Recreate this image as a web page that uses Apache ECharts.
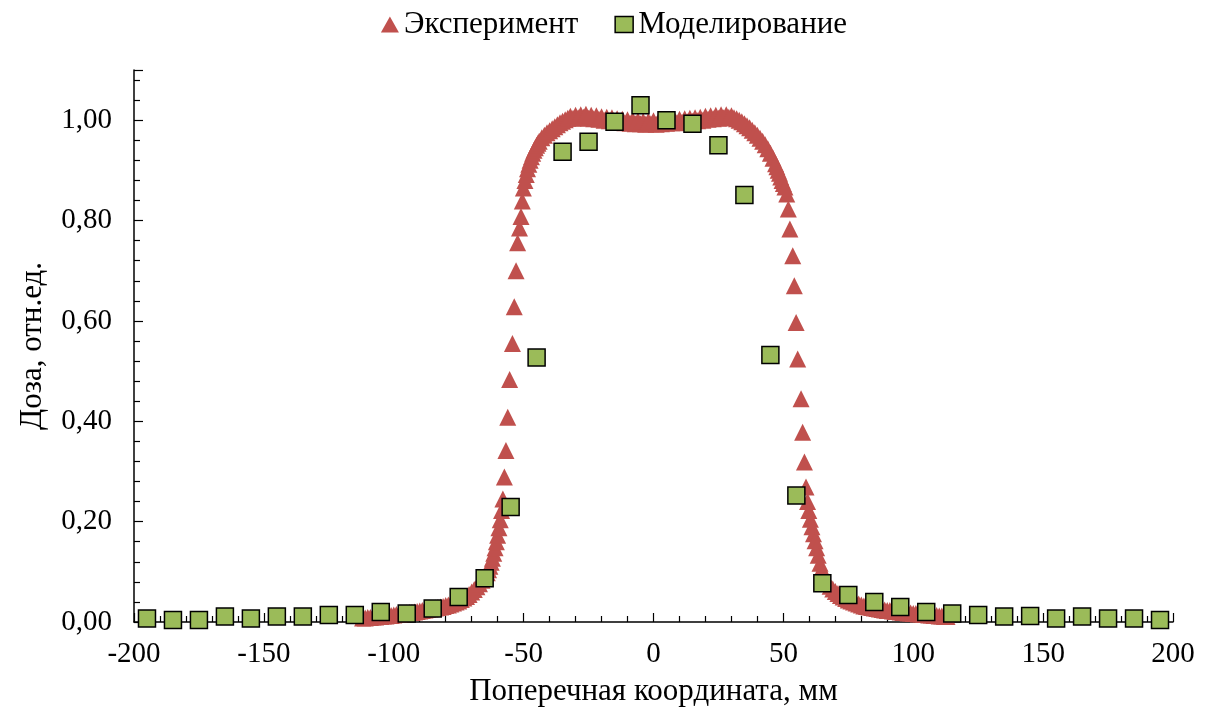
<!DOCTYPE html>
<html>
<head>
<meta charset="utf-8">
<script src="https://cdn.jsdelivr.net/npm/echarts@6/dist/echarts.min.js"></script>
<style>
html,body{margin:0;padding:0;background:#fff;}
#chart{width:1228px;height:717px;}
</style>
</head>
<body>
<div id="chart"></div>
<script>
// Series names
const seriesNames = ['Эксперимент', 'Моделирование'];

// Experiment (measured profile), [x mm, relative dose]
const experimentData = [
  [-112,0.008],[-111,0.008],[-110,0.009],[-109,0.009],[-108,0.010],[-107,0.010],[-106,0.011],[-105,0.011],
  [-104,0.012],[-103,0.012],[-102,0.013],[-101,0.013],[-100,0.014],[-99,0.015],[-98,0.015],[-97,0.016],
  [-96,0.017],[-95,0.018],[-94,0.019],[-93,0.019],[-92,0.020],[-91,0.021],[-90,0.022],[-89,0.023],
  [-88,0.024],[-87,0.025],[-86,0.026],[-85,0.027],[-84,0.028],[-83,0.029],[-82,0.030],[-81,0.031],
  [-80,0.033],[-79,0.034],[-78,0.036],[-77,0.038],[-76,0.040],[-75,0.042],[-74,0.045],[-73,0.048],
  [-72,0.051],[-71,0.055],[-70,0.060],[-69,0.065],[-68,0.070],[-67,0.076],[-66,0.083],[-65,0.090],
  [-64,0.098],[-63.5,0.104],[-63,0.111],[-62.5,0.119],[-62,0.127],[-61.5,0.137],[-61,0.148],[-60.5,0.160],
  [-60,0.173],[-59.5,0.188],[-59,0.204],[-58.5,0.222],[-58,0.245],[-57.4,0.289],[-56.8,0.342],[-56.1,0.408],
  [-55.4,0.483],[-54.3,0.555],[-53.6,0.628],[-52.9,0.700],[-52.3,0.756],[-51.6,0.785],[-51.0,0.808],[-50.5,0.839],
  [-50.1,0.865],[-49.5,0.880],[-49.0,0.892],[-48.5,0.903],[-48.0,0.912],[-47.5,0.920],[-47.0,0.927],[-46.5,0.934],
  [-46,0.940],[-45.5,0.945],[-45,0.950],[-44.5,0.954],[-44,0.958],[-43,0.965],[-42,0.970],[-41,0.975],
  [-40,0.979],[-39,0.983],[-38,0.987],[-37,0.991],[-36,0.995],[-35,0.998],[-34,1.001],[-33,1.004],
  [-32,1.008],[-31,1.004],[-30,1.010],[-29,1.005],[-28,1.011],[-27,1.006],[-26,1.012],[-25,1.004],
  [-24,1.010],[-23,1.003],[-22,1.009],[-21,1.002],[-20,1.007],[-19,1.000],[-18,1.006],[-17,0.999],
  [-16,1.005],[-15,0.997],[-14,1.003],[-13,0.996],[-12,1.002],[-11,0.995],[-10,1.001],[-9,0.994],
  [-8,1.000],[-7,0.993],[-6,0.999],[-5,0.993],[-4,0.998],[-3,0.992],[-2,0.998],[-1,0.993],
  [0,0.999],[1,0.992],[2,0.998],[3,0.993],[4,0.999],[5,0.994],[6,1.000],[7,0.995],
  [8,1.001],[9,0.995],[10,1.002],[11,0.996],[12,1.003],[13,0.997],[14,1.004],[15,0.998],
  [16,1.005],[17,0.999],[18,1.006],[19,1.000],[20,1.008],[21,1.002],[22,1.009],[23,1.003],
  [24,1.010],[25,1.004],[26,1.011],[27,1.005],[28,1.011],[29,1.006],[30,1.009],[31,1.005],
  [32,1.003],[33,1.000],[34,0.997],[35,0.993],[36,0.989],[37,0.985],[38,0.980],[39,0.975],
  [40,0.970],[41,0.964],[42,0.958],[43,0.951],[44,0.943],[45,0.934],[46,0.924],[47,0.913],
  [47.5,0.907],[48,0.900],[48.5,0.894],[49,0.887],[49.5,0.880],[50,0.874],[50.6,0.867],[51.3,0.853],
  [51.9,0.823],[52.5,0.783],[53.6,0.730],[54.2,0.670],[54.9,0.597],[55.5,0.524],[56.8,0.445],[57.4,0.378],
  [58.1,0.319],[58.7,0.269],[59.3,0.240],[59.8,0.222],[60.4,0.205],[61.0,0.190],[61.6,0.176],[62.2,0.162],
  [62.8,0.148],[63.4,0.133],[64.1,0.117],[64.8,0.106],[65.5,0.096],[66.2,0.087],[67,0.079],[68,0.071],
  [69,0.066],[70,0.061],[71,0.057],[72,0.053],[73,0.050],[74,0.047],[75,0.044],[76,0.042],
  [77,0.040],[78,0.038],[79,0.036],[80,0.034],[81,0.032],[82,0.031],[83,0.030],[84,0.029],
  [85,0.028],[86,0.027],[87,0.026],[88,0.025],[89,0.024],[90,0.023],[91,0.023],[92,0.022],
  [93,0.021],[94,0.021],[95,0.020],[96,0.019],[97,0.019],[98,0.018],[99,0.018],[100,0.017],
  [101,0.017],[102,0.016],[103,0.016],[104,0.015],[105,0.015],[106,0.014],[107,0.014],[108,0.013],
  [109,0.013],[110,0.012],[111,0.012],[112,0.011],[113,0.011]
];

// Simulation (Monte Carlo), x positions and values
const simX = [-195,-185,-175,-165,-155,-145,-135,-125,-115,-105,-95,-85,-75,-65,-55,-45,-35,-25,-15,-5,
              5,15,25,35,45,55,65,75,85,95,105,115,125,135,145,155,165,175,185,195];
const simY = [0.007,0.004,0.004,0.011,0.007,0.011,0.011,0.014,0.014,0.020,0.017,0.027,0.050,0.087,0.229,0.527,0.937,0.957,0.997,1.030,
              1.000,0.993,0.950,0.851,0.532,0.252,0.077,0.054,0.040,0.030,0.020,0.017,0.014,0.011,0.012,0.007,0.011,0.007,0.007,0.004];

// Axis settings
const xMin = -200, xMax = 200, xStep = 50;
const yMin = 0, yMax = 1.1, yStep = 0.2;
const xTitle = 'Поперечная координата, мм';
const yTitle = 'Доза, отн.ед.';

const simData = simX.map((x, i) => [x, simY[i]]);

const FONT = '"Liberation Serif", "Times New Roman", serif';
const chart = echarts.init(document.getElementById('chart'), null, {renderer: 'canvas'});
chart.setOption({
  animation: false,
  backgroundColor: '#ffffff',
  textStyle: {fontFamily: FONT},
  legend: {
    top: 4,
    left: 'center',
    itemGap: 36,
    itemWidth: 18,
    itemHeight: 16,
    textStyle: {fontFamily: FONT, fontSize: 31, color: '#000'},
    data: [
      {name: seriesNames[0], icon: 'triangle', itemStyle: {color: '#C0504D'}},
      {name: seriesNames[1], icon: 'rect', itemStyle: {color: '#9BBB59', borderColor: '#000', borderWidth: 1.5}}
    ]
  },
  grid: {left: 134, right: 55, top: 70, bottom: 95, containLabel: false},
  xAxis: {
    type: 'value', min: xMin, max: xMax, interval: xStep,
    name: xTitle, nameLocation: 'middle', nameGap: 54,
    nameTextStyle: {fontFamily: FONT, fontSize: 31, color: '#000'},
    axisLine: {show: true, onZero: false, lineStyle: {color: '#000', width: 1.5}},
    axisTick: {show: true, inside: true, length: 9, lineStyle: {color: '#000', width: 1.2}},
    minorTick: {show: true, splitNumber: 5, length: 6, lineStyle: {color: '#000', width: 1.2}},
    splitLine: {show: false},
    axisLabel: {fontFamily: FONT, fontSize: 29, color: '#000', margin: 18}
  },
  yAxis: {
    type: 'value', min: yMin, max: yMax, interval: yStep,
    name: yTitle, nameLocation: 'middle', nameGap: 86,
    nameTextStyle: {fontFamily: FONT, fontSize: 31, color: '#000'},
    axisLine: {show: true, onZero: false, lineStyle: {color: '#000', width: 1.5}},
    axisTick: {show: true, inside: true, length: 9, lineStyle: {color: '#000', width: 1.2}},
    minorTick: {show: true, splitNumber: 5, length: 6, lineStyle: {color: '#000', width: 1.2}},
    splitLine: {show: false},
    axisLabel: {
      fontFamily: FONT, fontSize: 29, color: '#000', margin: 22,
      showMaxLabel: false,
      formatter: v => (Math.abs(v / yStep - Math.round(v / yStep)) < 1e-6) ? v.toFixed(2).replace('.', ',') : ''
    }
  },
  series: [
    {
      name: seriesNames[0], type: 'scatter', symbol: 'triangle', symbolSize: 17,
      itemStyle: {color: '#C0504D', opacity: 1},
      emphasis: {disabled: true},
      data: experimentData, z: 2
    },
    {
      name: seriesNames[1], type: 'scatter', symbol: 'rect', symbolSize: 17,
      itemStyle: {color: '#9BBB59', borderColor: '#000', borderWidth: 1.5, opacity: 1},
      emphasis: {disabled: true},
      data: simData, z: 3
    }
  ]
});
</script>
</body>
</html>
